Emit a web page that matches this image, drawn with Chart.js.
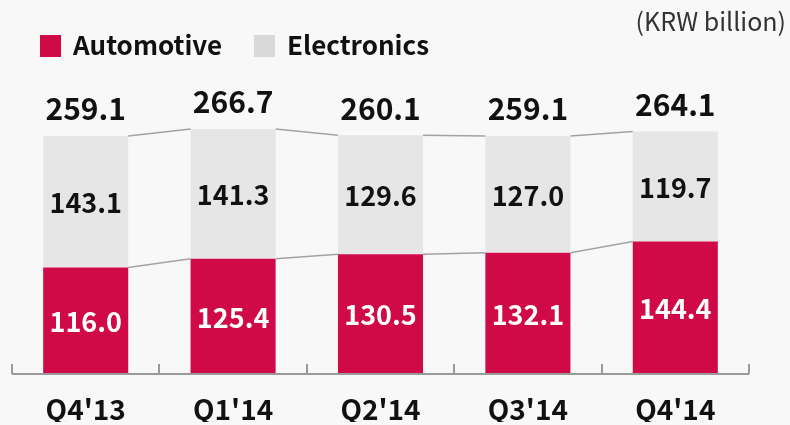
<!DOCTYPE html>
<html>
<head>
<meta charset="utf-8">
<script src="https://cdn.jsdelivr.net/npm/chart.js@4/dist/chart.umd.min.js"></script>
<style>
  html, body { margin: 0; padding: 0; background: #f8f8f8; }
  #wrap { width: 790px; height: 425px; position: relative; }
</style>
</head>
<body>
<div id="wrap"><canvas id="myChart" width="790" height="425"></canvas></div>
<script>
// data
let quarters = ["Q4'13", "Q1'14", "Q2'14", "Q3'14", "Q4'14"];
let automotive = [116.0, 125.4, 130.5, 132.1, 144.4];
let electronics = [143.1, 141.3, 129.6, 127.0, 119.7];
let totals = [259.1, 266.7, 260.1, 259.1, 264.1];
let unitText = "(KRW billion)";

let redColor = "#d00a47";
let grayColor = "#e6e6e6";
let fontName = "'Noto Sans CJK KR', 'Noto Sans', sans-serif";

// 라벨, 연결선, 축, 범례 그리기
const decoPlugin = {
  id: "deco",
  afterDatasetsDraw(chart) {
    let ctx = chart.ctx;
    let y = chart.scales.y;
    let area = chart.chartArea;
    let metaA = chart.getDatasetMeta(0);

    ctx.save();
    // 연결선
    ctx.strokeStyle = "#a3a3a3";
    ctx.lineWidth = 1.5;
    for (let i = 0; i < quarters.length - 1; i++) {
      let b1 = metaA.data[i], b2 = metaA.data[i + 1];
      let r1 = b1.x + b1.width / 2, l2 = b2.x - b2.width / 2;
      ctx.beginPath();
      ctx.moveTo(r1, y.getPixelForValue(automotive[i]));
      ctx.lineTo(l2, y.getPixelForValue(automotive[i + 1]));
      ctx.moveTo(r1, y.getPixelForValue(totals[i]));
      ctx.lineTo(l2, y.getPixelForValue(totals[i + 1]));
      ctx.stroke();
    }

    // 축과 눈금
    ctx.strokeStyle = "#9a9a9a";
    ctx.lineWidth = 2;
    ctx.beginPath();
    ctx.moveTo(area.left, area.bottom);
    ctx.lineTo(area.right, area.bottom);
    let step = (area.right - area.left) / quarters.length;
    for (let i = 0; i <= quarters.length; i++) {
      let tx = Math.round(area.left + step * i);
      ctx.moveTo(tx, area.bottom);
      ctx.lineTo(tx, area.bottom - 10);
    }
    ctx.stroke();

    // 막대 안 라벨
    ctx.textAlign = "center";
    ctx.textBaseline = "middle";
    ctx.font = "bold 27px " + fontName;
    for (let i = 0; i < quarters.length; i++) {
      let bx = metaA.data[i].x;
      let yA = (y.getPixelForValue(0) + y.getPixelForValue(automotive[i])) / 2;
      ctx.fillStyle = "#ffffff";
      ctx.fillText(automotive[i].toFixed(1), bx, yA + 1);
      let yE = (y.getPixelForValue(automotive[i]) + y.getPixelForValue(totals[i])) / 2;
      ctx.fillStyle = "#111111";
      ctx.fillText(electronics[i].toFixed(1), bx, yE + 1);
    }
    // 합계 라벨
    ctx.font = "bold 30px " + fontName;
    for (let i = 0; i < quarters.length; i++) {
      ctx.fillStyle = "#111111";
      ctx.fillText(totals[i].toFixed(1), metaA.data[i].x, y.getPixelForValue(totals[i]) - 27);
    }

    // 범례
    ctx.textAlign = "left";
    ctx.fillStyle = redColor;
    ctx.fillRect(40, 35, 21, 22);
    ctx.fillStyle = "#d9d9d9";
    ctx.fillRect(254, 35, 21, 22);
    ctx.fillStyle = "#111111";
    ctx.font = "bold 26px " + fontName;
    ctx.fillText("Automotive", 73, 45);
    ctx.fillText("Electronics", 287, 45);

    // 단위
    ctx.textAlign = "right";
    ctx.fillStyle = "#333333";
    ctx.font = "25px " + fontName;
    ctx.fillText(unitText, 786, 21);
    ctx.restore();
  }
};

let ctx = document.getElementById("myChart").getContext("2d");
let myChart = new Chart(ctx, {
  type: "bar",
  data: {
    labels: quarters,
    datasets: [
      { label: "Automotive", data: automotive, backgroundColor: redColor, borderWidth: 0 },
      { label: "Electronics", data: electronics, backgroundColor: grayColor, borderWidth: 0 }
    ]
  },
  options: {
    responsive: false,
    animation: false,
    layout: { padding: { left: 12, right: 41, top: 98.5, bottom: 3 } },
    datasets: { bar: { categoryPercentage: 1, barPercentage: 0.577 } },
    plugins: { legend: { display: false }, tooltip: { enabled: false } },
    scales: {
      x: {
        stacked: true,
        grid: { display: false, drawTicks: false },
        border: { display: false },
        afterFit: function (scale) { scale.height = 48; },
        ticks: { color: "#111111", padding: 19, font: { family: fontName, size: 28, weight: "bold" } }
      },
      y: { stacked: true, display: false, min: 0, max: 300 }
    }
  },
  plugins: [decoPlugin]
});
</script>
</body>
</html>
